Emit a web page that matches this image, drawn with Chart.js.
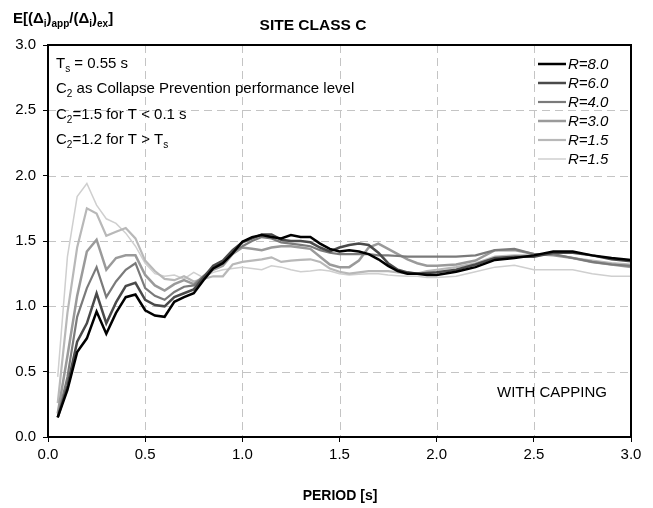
<!DOCTYPE html>
<html>
<head>
<meta charset="utf-8">
<script src="https://cdn.jsdelivr.net/npm/chart.js@4.4.0/dist/chart.umd.min.js"></script>
<style>
  body { margin: 0; background: #fff; }
  #wrap { width: 653px; height: 508px; position: relative; }
</style>
</head>
<body>
<div id="wrap"><canvas id="siteC"></canvas></div>
<script>
// periods [s]
var periods = [0.05, 0.10, 0.15, 0.20, 0.25, 0.30, 0.35, 0.40, 0.45, 0.50,
               0.55, 0.60, 0.65, 0.70, 0.75, 0.80, 0.85, 0.90, 0.95, 1.00,
               1.05, 1.10, 1.15, 1.20, 1.25, 1.30, 1.35, 1.40, 1.45, 1.50,
               1.55, 1.60, 1.65, 1.70, 1.75, 1.80, 1.85, 1.90, 1.95, 2.00,
               2.10, 2.20, 2.30, 2.40, 2.50, 2.60, 2.70, 2.80, 2.90, 3.00];

var r80 = [0.15, 0.36, 0.65, 0.755, 0.96, 0.79, 0.95, 1.07, 1.09, 0.97,
           0.93, 0.92, 1.035, 1.07, 1.10, 1.20, 1.29, 1.33, 1.405, 1.495,
           1.53, 1.545, 1.53, 1.52, 1.545, 1.53, 1.53, 1.48, 1.44, 1.42,
           1.43, 1.42, 1.40, 1.36, 1.31, 1.27, 1.25, 1.25, 1.24, 1.24,
           1.265, 1.30, 1.355, 1.37, 1.39, 1.42, 1.42, 1.39, 1.37, 1.355];

var r60 = [0.15, 0.39, 0.73, 0.87, 1.10, 0.87, 1.03, 1.155, 1.18, 1.05,
           1.01, 1.00, 1.07, 1.10, 1.13, 1.22, 1.31, 1.35, 1.43, 1.49,
           1.52, 1.55, 1.55, 1.51, 1.50, 1.50, 1.49, 1.45, 1.42, 1.45,
           1.47, 1.48, 1.47, 1.41, 1.33, 1.28, 1.26, 1.25, 1.255, 1.26,
           1.28, 1.32, 1.37, 1.38, 1.38, 1.41, 1.41, 1.39, 1.36, 1.345];

var r40 = [0.15, 0.46, 0.92, 1.14, 1.30, 1.07, 1.19, 1.28, 1.33, 1.14,
           1.08, 1.05, 1.11, 1.15, 1.16, 1.23, 1.30, 1.34, 1.42, 1.46,
           1.50, 1.53, 1.52, 1.49, 1.48, 1.47, 1.46, 1.43, 1.41, 1.40,
           1.40, 1.40, 1.40, 1.39, 1.39, 1.385, 1.38, 1.38, 1.38, 1.38,
           1.38, 1.39, 1.43, 1.44, 1.40, 1.40, 1.37, 1.34, 1.32, 1.31];

var r30 = [0.18, 0.62, 1.08, 1.42, 1.51, 1.28, 1.37, 1.39, 1.39, 1.24,
           1.16, 1.12, 1.17, 1.20, 1.17, 1.23, 1.28, 1.31, 1.40, 1.45,
           1.44, 1.43, 1.45, 1.46, 1.46, 1.45, 1.44, 1.38, 1.32, 1.30,
           1.30, 1.35, 1.45, 1.48, 1.44, 1.40, 1.36, 1.33, 1.31, 1.31,
           1.32, 1.35, 1.43, 1.43, 1.40, 1.39, 1.37, 1.34, 1.32, 1.30];

var r15a = [0.26, 0.95, 1.45, 1.75, 1.71, 1.54, 1.57, 1.60, 1.52, 1.35,
            1.27, 1.21, 1.20, 1.23, 1.19, 1.21, 1.23, 1.23, 1.32, 1.34,
            1.35, 1.36, 1.375, 1.34, 1.35, 1.355, 1.36, 1.34, 1.29, 1.265,
            1.25, 1.26, 1.27, 1.27, 1.27, 1.26, 1.25, 1.25, 1.27, 1.28,
            1.30, 1.33, 1.38, 1.39, 1.39, 1.40, 1.37, 1.35, 1.33, 1.32];

var r15b = [0.46, 1.38, 1.84, 1.94, 1.775, 1.67, 1.635, 1.56, 1.46, 1.33,
            1.25, 1.23, 1.24, 1.21, 1.26, 1.22, 1.26, 1.28, 1.29, 1.30,
            1.29, 1.28, 1.31, 1.30, 1.28, 1.265, 1.27, 1.28, 1.27, 1.25,
            1.24, 1.245, 1.25, 1.25, 1.24, 1.235, 1.23, 1.23, 1.22, 1.22,
            1.23, 1.265, 1.30, 1.315, 1.28, 1.28, 1.28, 1.25, 1.23, 1.23];

var seriesLabels = ["R=8.0", "R=6.0", "R=4.0", "R=3.0", "R=1.5", "R=1.5"];
var seriesValues = [r80, r60, r40, r30, r15a, r15b];
var seriesColors = ["#000000", "#4a4a4a", "#7a7a7a", "#9a9a9a", "#b8b8b8", "#cfcfcf"];
var seriesWidths = [2.5, 2.5, 2.2, 2.5, 2.2, 1.5];

var xTicks = [0, 0.5, 1.0, 1.5, 2.0, 2.5, 3.0];
var yTicks = [0, 0.5, 1.0, 1.5, 2.0, 2.5, 3.0];

var FONT = "'Liberation Sans', Arial, sans-serif";

function toPoints(vals) {
    return vals.map(function (v, i) { return { x: periods[i], y: v }; });
}

var datasets = seriesValues.map(function (vals, i) {
    return {
        label: seriesLabels[i],
        data: toPoints(vals),
        borderColor: seriesColors[i],
        backgroundColor: seriesColors[i],
        borderWidth: seriesWidths[i],
        pointRadius: 0,
        tension: 0,
        fill: false
    };
});

// draws text with subscripts: parts = [[text, isSub], ...]
function richText(ctx, x, y, parts, size, weight, style) {
    var subSize = Math.round(size * 0.68);
    parts.forEach(function (p) {
        var s = p[1] ? subSize : size;
        ctx.font = (style || "normal") + " " + (weight || "normal") + " " + s + "px " + FONT;
        ctx.fillText(p[0], x, p[1] ? y + size * 0.27 : y);
        x += ctx.measureText(p[0]).width;
    });
}

// dashed grid, placed with the scales
var dashedGrid = {
    id: "dashedGrid",
    beforeDatasetsDraw: function (chart) {
        var ctx = chart.ctx;
        var a = chart.chartArea;
        var xs = chart.scales.x, ys = chart.scales.y;
        ctx.save();
        ctx.strokeStyle = "#c4c4c4";
        ctx.lineWidth = 1;
        ctx.setLineDash([8, 5]);
        xTicks.forEach(function (v) {
            var px = Math.round(xs.getPixelForValue(v)) + 0.5;
            ctx.beginPath();
            ctx.moveTo(px, a.top);
            ctx.lineTo(px, a.bottom);
            ctx.stroke();
        });
        yTicks.forEach(function (v) {
            var py = Math.round(ys.getPixelForValue(v)) + 0.5;
            ctx.beginPath();
            ctx.moveTo(a.left, py);
            ctx.lineTo(a.right, py);
            ctx.stroke();
        });
        ctx.restore();
    }
};

var decorations = {
    id: "decorations",
    afterDraw: function (chart) {
        var ctx = chart.ctx;
        var a = chart.chartArea;
        ctx.save();
        ctx.fillStyle = "#000";
        ctx.textBaseline = "alphabetic";
        ctx.textAlign = "left";

        // plot frame
        ctx.strokeStyle = "#000";
        ctx.lineWidth = 2;
        ctx.strokeRect(a.left, a.top, a.right - a.left, a.bottom - a.top);

        // axis title (y)
        richText(ctx, 13, 23, [["E[(\u0394", 0], ["i", 1], [")", 0], ["app", 1], ["/(\u0394", 0],
            ["i", 1], [")", 0], ["ex", 1], ["]", 0]], 15, "bold");

        // chart title
        ctx.font = "bold 15.5px " + FONT;
        ctx.textAlign = "center";
        ctx.fillText("SITE CLASS C", 313, 30);
        ctx.font = "bold 14px " + FONT;
        ctx.fillText("PERIOD [s]", 340, 500);
        ctx.textAlign = "left";

        // notes
        richText(ctx, 56, 68, [["T", 0], ["s", 1], [" = 0.55 s", 0]], 15);
        richText(ctx, 56, 93, [["C", 0], ["2", 1], [" as Collapse Prevention performance level", 0]], 15);
        richText(ctx, 56, 119, [["C", 0], ["2", 1], ["=1.5 for T < 0.1 s", 0]], 15);
        richText(ctx, 56, 144, [["C", 0], ["2", 1], ["=1.2 for T > T", 0], ["s", 1]], 15);

        ctx.font = "15px " + FONT;
        ctx.fillText("WITH CAPPING", 497, 397);

        // legend
        var ly = 64;
        chart.data.datasets.forEach(function (ds) {
            ctx.beginPath();
            ctx.strokeStyle = ds.borderColor;
            ctx.lineWidth = ds.borderWidth;
            ctx.moveTo(538, ly);
            ctx.lineTo(566, ly);
            ctx.stroke();
            ctx.font = "italic 15px " + FONT;
            ctx.textBaseline = "middle";
            ctx.fillText(ds.label, 568, ly + 1);
            ly += 19;
        });
        ctx.restore();
    }
};

var gridOpts = {
    drawOnChartArea: false,
    drawTicks: true,
    tickLength: 5,
    tickColor: "#000",
    tickWidth: 1
};

new Chart(document.getElementById("siteC").getContext("2d"), {
    type: "line",
    data: { datasets: datasets },
    options: {
        responsive: true,
        maintainAspectRatio: false,
        animation: false,
        devicePixelRatio: 1,
        layout: { padding: { top: 45, right: 22, left: 0, bottom: 0 } },
        plugins: {
            legend: { display: false },
            tooltip: { enabled: false },
            title: { display: false }
        },
        scales: {
            x: {
                type: "linear",
                min: 0,
                max: 3,
                afterFit: function (scale) { scale.height = 71; },
                afterBuildTicks: function (scale) {
                    scale.ticks = xTicks.map(function (v) { return { value: v }; });
                },
                ticks: {
                    color: "#000",
                    font: { family: FONT, size: 15 },
                    padding: 4,
                    maxRotation: 0,
                    callback: function (v) { return Number(v).toFixed(1); }
                },
                grid: gridOpts,
                border: { display: false }
            },
            y: {
                type: "linear",
                min: 0,
                max: 3,
                afterFit: function (scale) { scale.width = 48; },
                afterBuildTicks: function (scale) {
                    scale.ticks = yTicks.map(function (v) { return { value: v }; });
                },
                ticks: {
                    color: "#000",
                    font: { family: FONT, size: 15 },
                    padding: 7,
                    callback: function (v) { return Number(v).toFixed(1); }
                },
                grid: gridOpts,
                border: { display: false }
            }
        }
    },
    plugins: [dashedGrid, decorations]
});
</script>
</body>
</html>
